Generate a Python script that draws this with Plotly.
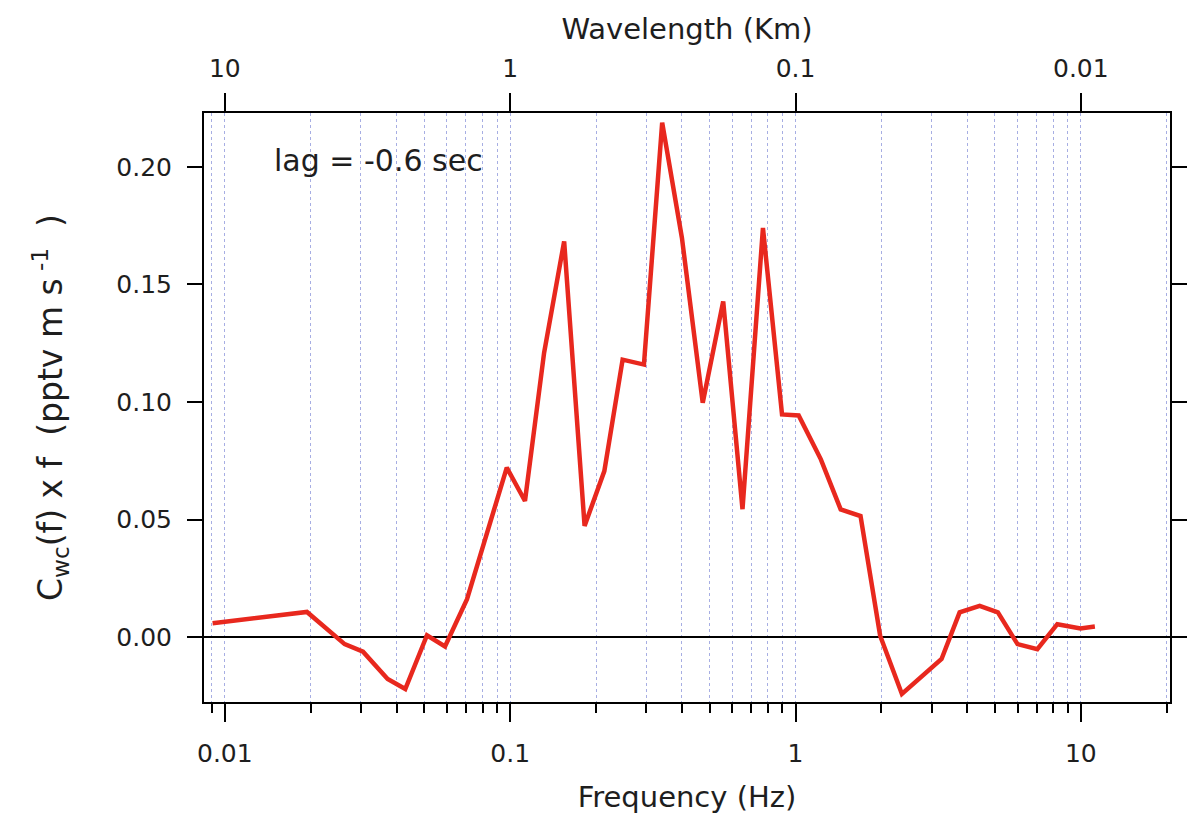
import plotly.graph_objects as go

# ---- data ----
freq_hz = [0.00906, 0.0194, 0.0263, 0.0305, 0.0372, 0.0429, 0.0511, 0.0591,
           0.0706, 0.0973, 0.1127, 0.1315, 0.1546, 0.1823, 0.2138, 0.2478,
           0.2943, 0.341, 0.400, 0.473, 0.558, 0.652, 0.769, 0.897, 1.026,
           1.227, 1.44, 1.69, 1.98, 2.36, 3.25, 3.76, 4.42, 5.12, 6.0, 7.04,
           8.27, 9.97, 11.2]
cwc_times_f = [0.0059, 0.0107, -0.0030, -0.0062, -0.0178, -0.0221, 0.0008, -0.0040,
               0.0161, 0.0721, 0.0579, 0.1209, 0.1683, 0.0473, 0.0706, 0.1180,
               0.1159, 0.2188, 0.1697, 0.0997, 0.1428, 0.0544, 0.1740, 0.0947, 0.0943,
               0.0756, 0.0543, 0.0515, 0.0006, -0.0242, -0.0093, 0.0105, 0.0133, 0.0105,
               -0.0030, -0.0051, 0.0055, 0.0037, 0.0045]

freq_major_ticks = [0.01, 0.1, 1, 10]
freq_major_labels = ["0.01", "0.1", "1", "10"]
wavelength_km_ticks = [10, 1, 0.1, 0.01]
wavelength_labels = ["10", "1", "0.1", "0.01"]
speed_km_per_s = 0.1  # wavelength = speed / frequency
y_ticks = [0.00, 0.05, 0.10, 0.15, 0.20]

minor_ticks = [m * 10.0 ** e for e in range(-3, 2) for m in range(2, 10)]

FONT = "DejaVu Sans"
GRID = "rgba(130,140,215,0.7)"
RED = "#e8281e"
TXT = "#1e1e1e"

fig = go.Figure()
# invisible carrier trace for the top (wavelength) axis
fig.add_trace(go.Scatter(x=freq_hz, y=cwc_times_f, xaxis="x2", yaxis="y",
                         mode="lines", line=dict(width=0), opacity=0,
                         hoverinfo="skip", showlegend=False))
fig.add_trace(go.Scatter(x=freq_hz, y=cwc_times_f, mode="lines",
                         line=dict(color=RED, width=4.5), showlegend=False))

x_range = [-2.073, 1.3125]

fig.update_layout(
    width=1199, height=822,
    margin=dict(l=204, r=22, t=113, b=120),
    plot_bgcolor="white", paper_bgcolor="white",
    font=dict(family=FONT, size=25, color=TXT),
    xaxis=dict(
        type="log", range=x_range,
        tickmode="array", tickvals=freq_major_ticks, ticktext=freq_major_labels,
        tickfont=dict(size=25),
        ticks="outside", ticklen=18, tickwidth=2, tickcolor="black",
        showline=True, linewidth=2, linecolor="black", mirror=False,
        showgrid=True, gridcolor=GRID, griddash="dot", gridwidth=1,
        minor=dict(tickmode="array", tickvals=minor_ticks, ticks="outside",
                   ticklen=9, tickwidth=2, tickcolor="black",
                   showgrid=True, gridcolor=GRID, griddash="dot", gridwidth=1),
        ticklabelstandoff=10,
        title=dict(text="Frequency (Hz)", font=dict(size=29), standoff=20),
        zeroline=False,
    ),
    xaxis2=dict(
        type="log", range=x_range, overlaying="x", side="top", anchor="y",
        tickmode="array",
        tickvals=[speed_km_per_s / w for w in wavelength_km_ticks],
        ticktext=wavelength_labels,
        tickfont=dict(size=25),
        ticks="outside", ticklen=18, tickwidth=2, tickcolor="black",
        showline=True, linewidth=2, linecolor="black",
        showgrid=False, zeroline=False,
        ticklabelstandoff=6,
        title=dict(text="Wavelength (Km)", font=dict(size=29), standoff=6),
    ),
    yaxis=dict(
        range=[-0.0276, 0.2229],
        tickmode="array", tickvals=y_ticks, tickformat=".2f",
        tickfont=dict(size=25),
        ticks="outside", ticklen=15, tickwidth=2, tickcolor="black",
        showline=True, linewidth=2, linecolor="black", mirror="ticks",
        showgrid=False,
        zeroline=True, zerolinecolor="black", zerolinewidth=2,
        ticklabelstandoff=10,
        title=dict(text="C<sub>wc</sub>(f) x f  (pptv m s<sup> -1</sup>  )",
                   font=dict(size=33), standoff=44),
    ),
    annotations=[dict(text="lag = -0.6 sec", xref="paper", yref="paper",
                      x=0.0709, y=0.920, xanchor="left", yanchor="middle",
                      showarrow=False, font=dict(size=30, color=TXT))],
)

fig.write_html("out.html")
